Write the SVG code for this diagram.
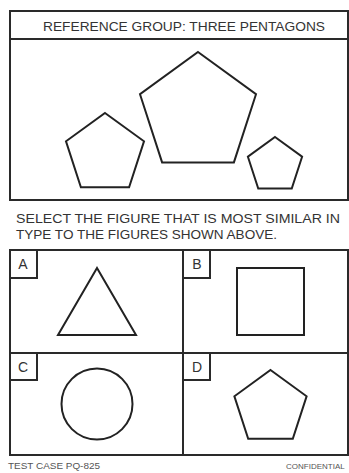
<svg xmlns="http://www.w3.org/2000/svg" width="349" height="473" viewBox="0 0 349 473">
<style>
.frame{fill:none;stroke:#2a2a2a;stroke-width:2}
.shape{fill:none;stroke:#222;stroke-width:2;stroke-linejoin:miter}
.t{font-family:"Liberation Sans",Arial,sans-serif;fill:#333}
.lbl{font-family:"Liberation Sans",Arial,sans-serif;fill:#333;font-size:14px;text-anchor:middle}
.foot{font-family:"Liberation Sans",Arial,sans-serif;fill:#555;font-size:9.5px}
.foot-r{font-family:"Liberation Sans",Arial,sans-serif;fill:#555;font-size:8px}
</style>
<rect width="349" height="473" fill="#fff"/>
<g id="reference-group">
<rect class="frame" x="10" y="11" width="338" height="189"/>
<line class="frame" x1="10" y1="39" x2="348" y2="39"/>
<text class="t" x="43" y="31" font-size="13.5" textLength="282" lengthAdjust="spacingAndGlyphs">REFERENCE GROUP: THREE PENTAGONS</text>
</g>
<g id="pentagon-left"><polygon class="shape" points="105,113 144,141.3 129.1,187.2 80.9,187.2 66,141.3"/></g>
<g id="pentagon-big"><polygon class="shape" points="198,52 256,94.2 233.9,162.4 162.1,162.4 140,94.2"/></g>
<g id="pentagon-small"><polygon class="shape" points="275,137 302.1,156.7 291.75,188.6 258.25,188.6 247.9,156.7"/></g>
<g id="instruction">
<text class="t" x="16" y="223" font-size="13.5" textLength="324" lengthAdjust="spacingAndGlyphs">SELECT THE FIGURE THAT IS MOST SIMILAR IN</text>
<text class="t" x="16" y="239" font-size="13.5" textLength="261" lengthAdjust="spacingAndGlyphs">TYPE TO THE FIGURES SHOWN ABOVE.</text>
</g>
<g id="options-grid">
<rect class="frame" x="10" y="250" width="338" height="205"/>
<line class="frame" x1="183" y1="250" x2="183" y2="455"/>
<line class="frame" x1="10" y1="353" x2="348" y2="353"/>
</g>
<g id="option-a">
<path class="frame" d="M10,278 H37 V250"/>
<text class="lbl" x="23" y="269">A</text>
<polygon class="shape" points="97,268 136,335 58,335"/>
</g>
<g id="option-b">
<path class="frame" d="M183,278 H210 V250"/>
<text class="lbl" x="197" y="269">B</text>
<rect class="shape" x="237" y="268" width="67" height="67"/>
</g>
<g id="option-c">
<path class="frame" d="M10,380 H37 V353"/>
<text class="lbl" x="23" y="372">C</text>
<circle class="shape" cx="97" cy="404" r="35.5"/>
</g>
<g id="option-d">
<path class="frame" d="M183,380 H210 V353"/>
<text class="lbl" x="197" y="372">D</text>
<polygon class="shape" points="270.5,370 306.6,396.3 292.8,438.7 248.2,438.7 234.4,396.3"/>
</g>
<g id="footer">
<text class="foot" x="8" y="469" textLength="92" lengthAdjust="spacingAndGlyphs">TEST CASE PQ-825</text>
<text class="foot-r" x="286" y="469">CONFIDENTIAL</text>
</g>
</svg>
